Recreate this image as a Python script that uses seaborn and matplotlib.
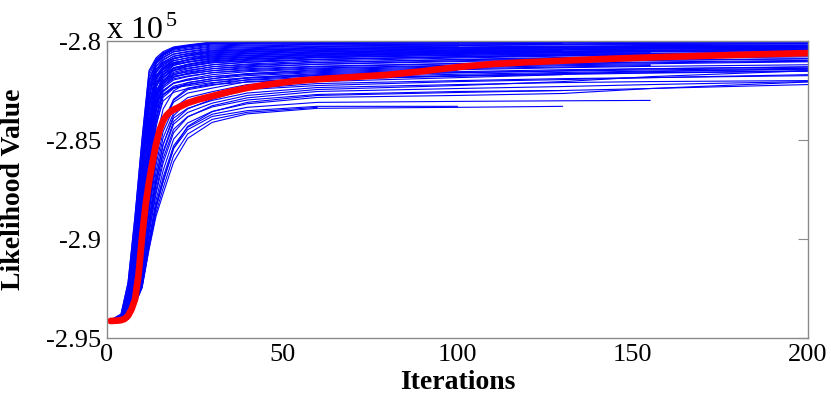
import numpy as np
import pandas as pd
import matplotlib
matplotlib.use("Agg")
import matplotlib.pyplot as plt
import seaborn as sns

# ---------------- data (likelihood values, in units of 10^5) ----------------
ITERS = [1, 4, 6, 8, 10, 12, 14, 16, 19, 23, 30, 40, 60, 100, 130, 155, 200]
N = None
RUNS = [
    [-2.941, -2.938, -2.9221, -2.8882, -2.8493, -2.8149, -2.8085, -2.8054, -2.803, -2.802, -2.8005, -2.8004, -2.8003, -2.8003, N, N, N],
    [-2.941, -2.938, -2.9222, -2.8885, -2.85, -2.8158, -2.8094, -2.8063, -2.804, -2.803, -2.8015, -2.8012, -2.801, -2.8008, -2.8007, -2.8006, -2.8005],
    [-2.941, -2.9388, -2.9248, -2.8935, -2.8545, -2.8177, -2.8093, -2.806, -2.8034, -2.8023, -2.8008, -2.8006, -2.8005, -2.8004, -2.8003, -2.8003, -2.8003],
    [-2.941, -2.9388, -2.9251, -2.8943, -2.8559, -2.8195, -2.8113, -2.8081, -2.8055, -2.8045, -2.803, -2.8025, -2.802, -2.8016, -2.8014, -2.8012, -2.801],
    [-2.941, -2.9395, -2.9276, -2.8988, -2.8596, -2.8203, -2.8101, -2.8065, -2.8037, -2.8026, -2.801, -2.8008, -2.8006, -2.8005, -2.8004, -2.8004, -2.8003],
    [-2.941, -2.9396, -2.9279, -2.8997, -2.8613, -2.8227, -2.8128, -2.8093, -2.8067, -2.8056, -2.804, -2.8034, -2.8028, -2.8023, -2.802, -2.8018, -2.8015],
    [-2.941, -2.9395, -2.9277, -2.8991, -2.8602, -2.8211, -2.811, -2.8074, -2.8047, -2.8036, -2.802, -2.8016, -2.8013, -2.801, N, N, N],
    [-2.941, -2.9401, -2.9302, -2.9046, -2.8668, -2.8277, -2.8143, -2.8106, -2.8078, -2.8066, -2.805, -2.8043, -2.8036, -2.803, -2.8026, -2.8023, -2.802],
    [-2.941, -2.94, -2.9299, -2.9036, -2.8647, -2.8247, -2.811, -2.8071, -2.8042, -2.8029, -2.8013, -2.801, -2.8008, -2.8006, -2.8005, -2.8005, -2.8004],
    [-2.941, -2.9405, -2.9323, -2.9094, -2.872, -2.8326, -2.8159, -2.8119, -2.8089, -2.8076, -2.806, -2.8052, -2.8044, -2.8036, -2.8032, -2.8029, -2.8025],
    [-2.941, -2.9405, -2.9321, -2.9086, -2.8703, -2.8299, -2.8127, -2.8086, -2.8054, -2.8042, -2.8025, -2.8021, -2.8017, -2.8014, -2.8012, N, N],
    [-2.941, -2.9407, -2.9341, -2.9132, -2.8771, -2.8381, -2.8174, -2.8131, -2.8099, -2.8087, -2.807, -2.8062, -2.8053, -2.8044, -2.8039, -2.8035, -2.803],
    [-2.941, -2.9407, -2.9339, -2.9125, -2.8754, -2.8355, -2.8143, -2.8098, -2.8065, -2.8053, -2.8035, -2.803, -2.8025, -2.802, -2.8017, -2.8015, -2.8013],
    [-2.941, -2.941, -2.9358, -2.9169, -2.882, -2.8437, -2.819, -2.8145, -2.811, -2.8097, -2.808, -2.8071, -2.8061, -2.8051, -2.8045, -2.8041, -2.8036],
    [-2.941, -2.941, -2.9357, -2.9163, -2.8805, -2.8412, -2.8159, -2.8112, -2.8076, -2.8063, -2.8045, -2.8039, -2.8032, -2.8026, N, N, N],
    [-2.941, -2.941, -2.937, -2.9202, -2.8869, -2.8497, -2.8209, -2.8158, -2.8122, -2.8108, -2.809, -2.808, -2.8069, -2.8058, -2.8052, -2.8047, -2.8042],
    [-2.941, -2.941, -2.9369, -2.9196, -2.8855, -2.8473, -2.8179, -2.8126, -2.8088, -2.8073, -2.8055, -2.8048, -2.804, -2.8033, -2.8029, -2.8026, -2.8023],
    [-2.941, -2.941, -2.9382, -2.9233, -2.8918, -2.8555, -2.8229, -2.8172, -2.8134, -2.8119, -2.81, -2.8089, -2.8077, -2.8065, -2.8058, -2.8053, -2.8047],
    [-2.941, -2.941, -2.9382, -2.9229, -2.8904, -2.8532, -2.82, -2.814, -2.81, -2.8084, -2.8065, -2.8057, -2.8048, -2.804, -2.8035, -2.8032, -2.8028],
    [-2.941, -2.941, -2.9389, -2.926, -2.897, -2.8608, -2.8261, -2.8187, -2.8146, -2.8129, -2.811, -2.8098, -2.8085, -2.8072, -2.8064, -2.8059, N],
    [-2.941, -2.941, -2.9389, -2.9256, -2.8958, -2.8586, -2.8232, -2.8155, -2.8112, -2.8095, -2.8075, -2.8066, -2.8056, -2.8047, -2.8042, -2.8038, -2.8033],
    [-2.941, -2.941, -2.9396, -2.9287, -2.9021, -2.866, -2.8292, -2.8201, -2.8158, -2.8141, -2.812, -2.8107, -2.8093, -2.8079, -2.807, -2.8064, -2.8057],
    [-2.941, -2.941, -2.9396, -2.9283, -2.9011, -2.864, -2.8264, -2.8169, -2.8124, -2.8106, -2.8085, -2.8075, -2.8064, -2.8054, -2.8048, N, N],
    [-2.941, -2.941, -2.9401, -2.9308, -2.9067, -2.8711, -2.8339, -2.8215, -2.8171, -2.8152, -2.813, -2.8116, -2.8101, -2.8086, -2.8076, -2.807, -2.8062],
    [-2.941, -2.941, -2.9401, -2.9306, -2.9058, -2.8692, -2.8312, -2.8184, -2.8137, -2.8117, -2.8095, -2.8084, -2.8072, -2.8061, -2.8054, -2.8049, -2.8044],
    [-2.941, -2.941, -2.9406, -2.9329, -2.9113, -2.8762, -2.8387, -2.823, -2.8183, -2.8163, -2.814, -2.8125, -2.8109, -2.8093, -2.8083, -2.8076, -2.8068],
    [-2.941, -2.941, -2.9406, -2.9327, -2.9105, -2.8744, -2.8361, -2.8199, -2.815, -2.8128, -2.8105, -2.8093, -2.808, -2.8068, -2.806, -2.8055, -2.8049],
    [-2.941, -2.9405, -2.9321, -2.9082, -2.8693, -2.8285, -2.811, -2.8068, -2.8036, -2.8023, -2.8006, -2.8005, -2.8004, -2.8003, -2.8003, -2.8003, -2.8002],
    [-2.941, -2.941, -2.9384, -2.9241, -2.8937, -2.8588, -2.8272, -2.8218, -2.8182, -2.8168, -2.815, -2.8134, -2.8117, -2.81, -2.8089, -2.8081, -2.8073],
    [-2.941, -2.941, -2.936, -2.9177, -2.8838, -2.8466, -2.8225, -2.8182, -2.8149, -2.8137, -2.812, -2.8108, -2.8094, -2.808, -2.8071, -2.8065, -2.8058],
    [-2.941, -2.941, -2.9405, -2.933, -2.9119, -2.8777, -2.841, -2.8257, -2.8212, -2.8192, -2.817, -2.8155, -2.814, -2.8125, -2.8115, -2.811, -2.8102],
    [-2.941, -2.941, -2.9397, -2.9291, -2.9034, -2.8683, -2.8325, -2.8237, -2.8197, -2.818, -2.816, -2.8145, -2.813, -2.8115, -2.8105, -2.8098, -2.809],
    [-2.941, -2.941, -2.9401, -2.9312, -2.9083, -2.8744, -2.8387, -2.8269, -2.8228, -2.8211, -2.819, -2.8175, -2.816, -2.8145, -2.8135, -2.8128, -2.812],
    [-2.941, -2.941, -2.9405, -2.9333, -2.9127, -2.8792, -2.8433, -2.8284, -2.824, -2.8221, -2.82, -2.8185, -2.817, -2.8155, -2.8145, -2.814, -2.8132],
    [-2.941, -2.941, -2.939, -2.9268, -2.8993, -2.8651, -2.8319, -2.8251, -2.8214, -2.8198, -2.818, -2.8165, -2.815, -2.8135, -2.8125, -2.812, N],
    [-2.941, -2.9395, -2.928, -2.9003, -2.8625, -2.8247, -2.8148, -2.8113, -2.8086, -2.8075, -2.806, -2.8054, -2.8048, -2.804, -2.8036, -2.8033, -2.803],
    [-2.941, -2.9405, -2.9325, -2.9098, -2.8731, -2.8344, -2.8179, -2.8138, -2.8108, -2.8096, -2.808, -2.8073, -2.8065, -2.8056, -2.805, -2.8046, -2.8041],
    [-2.941, -2.9408, -2.9343, -2.914, -2.879, -2.8414, -2.8213, -2.817, -2.8138, -2.8127, -2.811, -2.8102, -2.8092, -2.8081, -2.8074, -2.8069, -2.8062],
    [-2.941, -2.941, -2.9361, -2.9181, -2.8847, -2.8482, -2.8248, -2.8203, -2.8169, -2.8157, -2.814, -2.813, -2.8118, -2.8104, -2.8095, -2.8088, -2.808],
    [-2.941, -2.941, -2.9373, -2.9213, -2.8898, -2.8546, -2.8277, -2.8226, -2.8191, -2.8177, -2.816, -2.815, -2.8136, -2.8122, -2.8113, -2.8106, -2.8098],
    [-2.941, -2.941, -2.9383, -2.9238, -2.8929, -2.8575, -2.8262, -2.8203, -2.8164, -2.8148, -2.813, -2.812, -2.8108, -2.8095, -2.8087, -2.8081, -2.8073],
    [-2.941, -2.941, -2.939, -2.927, -2.9, -2.8663, -2.8346, -2.8274, -2.8234, -2.8218, -2.82, -2.8188, -2.8174, -2.816, -2.8152, -2.8146, -2.8138],
    [-2.941, -2.941, -2.9396, -2.9284, -2.9015, -2.8648, -2.8281, -2.8185, -2.8139, -2.8121, -2.81, -2.8092, -2.8083, -2.8073, -2.8067, -2.8062, -2.8056],
    [-2.941, -2.941, -2.9402, -2.9315, -2.9091, -2.876, -2.842, -2.8303, -2.8259, -2.824, -2.822, -2.8208, -2.8193, -2.8178, -2.8169, -2.8162, -2.8153],
    [-2.941, -2.941, -2.9405, -2.9324, -2.9096, -2.8726, -2.8336, -2.817, -2.8117, -2.8094, -2.807, -2.8063, -2.8056, -2.8048, -2.8043, -2.804, -2.8036],
    [-2.941, -2.94, -2.9304, -2.9056, -2.8689, -2.8312, -2.8182, -2.8145, -2.8117, -2.8105, -2.809, -2.8082, -2.8073, -2.8063, -2.8057, -2.8052, -2.8047],
    [-2.941, -2.9408, -2.9346, -2.9149, -2.8809, -2.8445, -2.825, -2.8209, -2.8177, -2.8166, -2.815, -2.814, -2.8127, -2.8113, -2.8104, -2.8097, -2.8089],
    [-2.941, -2.941, -2.9383, -2.9244, -2.8947, -2.8607, -2.8306, -2.825, -2.8212, -2.8197, -2.818, -2.8169, -2.8155, -2.814, -2.8131, -2.8124, N],
    [-2.941, -2.941, -2.9363, -2.9193, -2.8878, -2.8533, -2.8312, -2.827, -2.8237, -2.8226, -2.821, -2.8198, -2.8183, -2.8168, -2.8159, -2.8152, -2.8143],
    [-2.941, -2.941, -2.9396, -2.928, -2.9001, -2.8619, -2.8238, -2.8139, -2.8091, -2.8072, -2.805, -2.8045, -2.8039, -2.8033, -2.8029, -2.8026, -2.8023],
    [-2.941, -2.941, -2.938, -2.927, -2.9055, -2.8769, -2.8503, -2.8344, -2.8252, -2.821, -2.8191, -2.8165, -2.8145, -2.813, -2.812, -2.8115, -2.8105],
    [-2.941, -2.941, -2.9377, -2.9275, -2.9089, -2.8833, -2.8588, -2.8409, -2.8299, -2.8246, -2.8224, -2.8195, -2.8175, -2.816, -2.815, -2.814, -2.813],
    [-2.941, -2.941, -2.9383, -2.929, -2.9112, -2.8852, -2.8596, -2.8414, -2.8294, -2.8238, -2.8214, -2.8185, -2.8165, -2.815, N, N, N],
    [-2.941, -2.941, -2.938, -2.9295, -2.9141, -2.8867, -2.8625, -2.8458, -2.8341, -2.8286, -2.8256, -2.822, -2.8195, -2.8175, -2.8165, -2.8155, -2.814],
    [-2.941, -2.941, -2.9387, -2.9308, -2.9162, -2.8898, -2.866, -2.8489, -2.8364, -2.8307, -2.8276, -2.824, -2.8215, -2.82, -2.819, -2.8185, -2.8175],
    [-2.941, -2.941, -2.9382, -2.9307, -2.9173, -2.8924, -2.8702, -2.8525, -2.8377, -2.8309, -2.8271, -2.8233, -2.8205, -2.8185, -2.817, N, N],
    [-2.941, -2.941, -2.9387, -2.9318, -2.92, -2.8917, -2.8689, -2.8522, -2.8389, -2.834, -2.83, -2.8263, -2.8235, -2.822, -2.821, -2.8205, -2.82],
    [-2.941, -2.941, -2.9382, -2.9315, -2.9202, -2.8936, -2.8724, -2.8568, -2.842, -2.8361, -2.8314, -2.8275, -2.8245, -2.8225, -2.8205, -2.818, -2.815],
    [-2.941, -2.941, -2.9387, -2.9325, -2.9216, -2.8964, -2.8754, -2.8594, -2.8446, -2.8382, -2.8333, -2.8298, -2.827, -2.8255, -2.825, N, N],
    [-2.941, -2.941, -2.9381, -2.9319, -2.9214, -2.8972, -2.8771, -2.8617, -2.8463, -2.8384, -2.8327, -2.8287, -2.8255, -2.824, -2.823, -2.822, -2.8205],
    [-2.941, -2.941, -2.9387, -2.9328, -2.9232, -2.9001, -2.8804, -2.8655, -2.8496, -2.8414, -2.8356, -2.8317, -2.8285, -2.8275, -2.8265, -2.824, -2.8207],
    [-2.941, -2.9406, -2.9382, -2.9326, -2.9234, -2.9014, -2.8826, -2.8689, -2.8529, -2.8436, -2.837, -2.8335, -2.831, -2.8305, -2.8302, -2.83, N],
    [-2.941, -2.9407, -2.9385, -2.9328, -2.924, -2.9025, -2.8839, -2.8706, -2.8543, -2.8448, -2.8381, -2.8352, -2.833, -2.833, N, N, N],
    [-2.941, -2.9404, -2.9379, -2.9323, -2.9234, -2.9023, -2.8842, -2.8714, -2.8542, -2.8431, -2.8357, -2.831, -2.8275, -2.826, -2.825, -2.824, -2.822],
    [-2.941, -2.9406, -2.9383, -2.9329, -2.9246, -2.9044, -2.8866, -2.8744, -2.8578, -2.847, -2.8396, -2.836, -2.8335, N, N, N, N],
    [-2.941, -2.9403, -2.9379, -2.9328, -2.9246, -2.9052, -2.8884, -2.8772, -2.8611, -2.8492, -2.8411, -2.8368, -2.834, -2.8335, -2.833, N, N],
    [-2.941, -2.941, -2.9386, -2.9298, -2.9129, -2.8836, -2.8571, -2.8411, -2.8309, -2.8263, -2.8238, -2.8205, -2.819, -2.8175, -2.8165, -2.816, -2.815],
    [-2.941, -2.9409, -2.9386, -2.9318, -2.9202, -2.8939, -2.8723, -2.8558, -2.8407, -2.8343, -2.8294, -2.8245, -2.8225, -2.8205, -2.8195, -2.8185, -2.817],
]

MEAN_ITERS = [1, 3, 4, 5, 6, 7, 8, 9, 10, 11, 12, 13, 14, 15, 16, 17, 18, 19, 21, 23,
              26, 30, 35, 40, 45, 50, 55, 60, 70, 80, 85, 90, 95, 100, 110, 120, 140,
              160, 180, 200]
MEAN_VALUES = [-2.9414, -2.9412, -2.941, -2.9404, -2.9388, -2.9355, -2.9305, -2.918,
               -2.899, -2.883, -2.871, -2.861, -2.852, -2.845, -2.8403, -2.8375, -2.8358,
               -2.8347, -2.833, -2.8313, -2.8296, -2.8278, -2.8256, -2.8237, -2.8222,
               -2.821, -2.82, -2.8193, -2.8182, -2.8171, -2.8162, -2.8153, -2.8142,
               -2.8132, -2.8116, -2.8107, -2.8092, -2.808, -2.807, -2.8061]

X_TICKS = [0, 50, 100, 150, 200]
Y_TICKS = [-2.95, -2.9, -2.85, -2.8]
Y_TICK_LABELS = ["-2.95", "-2.9", "-2.85", "-2.8"]
SCALE = 1e5

# ---------------- build tables ----------------
rows = []
for r, vals in enumerate(RUNS):
    for it, v in zip(ITERS, vals):
        if v is not None:
            rows.append({"run": r, "iteration": it, "likelihood": v * SCALE})
runs_df = pd.DataFrame(rows)
mean_df = pd.DataFrame({"iteration": MEAN_ITERS,
                        "likelihood": [v * SCALE for v in MEAN_VALUES]})

# ---------------- plot ----------------
sns.set_theme(style="white")
SERIF = ["Liberation Serif", "DejaVu Serif"]
plt.rcParams["font.family"] = SERIF

fig = plt.figure(figsize=(8.31, 3.94), dpi=100)
ax = fig.add_axes([107 / 831, 1 - 338 / 394, 701 / 831, 297 / 394])

sns.lineplot(data=runs_df, x="iteration", y="likelihood", units="run",
             estimator=None, color="#0000ff", lw=0.8, ax=ax, legend=False)
sns.lineplot(data=mean_df, x="iteration", y="likelihood", color="#ff0000",
             lw=4.8, ax=ax, legend=False)

ax.set_xlim(0, 200)
ax.set_ylim(-2.95 * SCALE, -2.8 * SCALE)
ax.set_xticks(X_TICKS)
ax.set_xticklabels([str(t) for t in X_TICKS])
ax.set_yticks([t * SCALE for t in Y_TICKS])
ax.set_yticklabels(Y_TICK_LABELS)

spine_col = "#8a8a8a"
for s in ax.spines.values():
    s.set_color(spine_col)
    s.set_linewidth(1.0)
ax.tick_params(direction="in", length=7, width=0.8, color=spine_col,
               top=True, right=True, labelsize=19, labelcolor="black", pad=4)
for lab in ax.get_xticklabels() + ax.get_yticklabels():
    lab.set_fontfamily(SERIF)

ax.set_xlabel("Iterations", fontsize=20, fontweight="bold", color="black",
              family=SERIF)
ax.set_ylabel("Likelihood Value", fontsize=20, fontweight="bold", color="black",
              family=SERIF)
ax.xaxis.set_label_coords(0.5, -0.107)
ax.yaxis.set_label_coords(-0.115, 0.5)

fig.text(107 / 831, 1 - 38 / 394, "x 10", fontsize=23, ha="left", va="baseline",
         color="black", family=SERIF)
fig.text(166 / 831, 1 - 26 / 394, "5", fontsize=16, ha="left", va="baseline",
         color="black", family=SERIF)

fig.savefig("out.png", dpi=100)
